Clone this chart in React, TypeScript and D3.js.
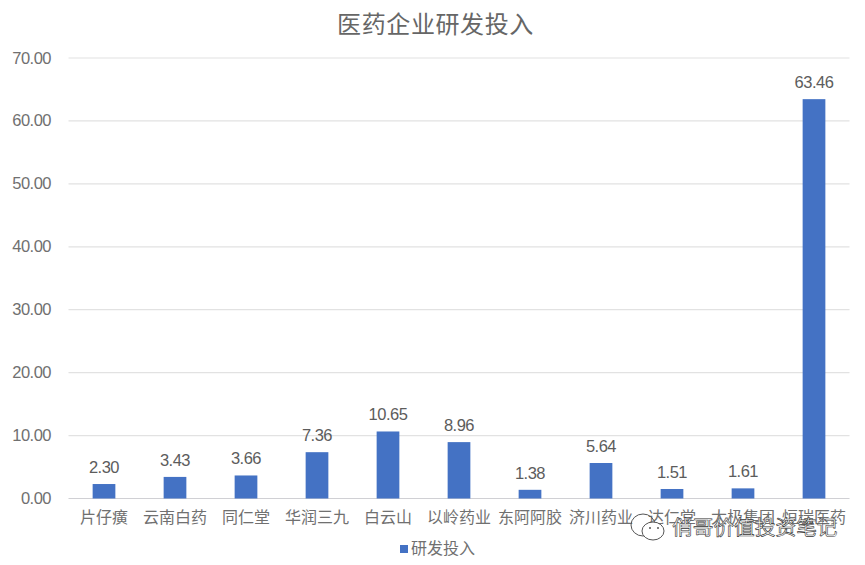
import React from "react";
import * as d3 from "d3";

const categories = ["片仔癀", "云南白药", "同仁堂", "华润三九", "白云山", "以岭药业", "东阿阿胶", "济川药业", "达仁堂", "太极集团", "恒瑞医药"];
const values = [2.3, 3.43, 3.66, 7.36, 10.65, 8.96, 1.38, 5.64, 1.51, 1.61, 63.46];
const yTicks = [0, 10, 20, 30, 40, 50, 60, 70];
const title = "医药企业研发投入";
const seriesName = "研发投入";
const watermark = "俏哥价值投资笔记";

const W = 865, H = 565;
const FONT = "'Liberation Sans','Noto Sans CJK SC',sans-serif";
const CJK = "'Noto Sans CJK SC',sans-serif";

export default function App() {
  const x = d3.scaleBand<string>().domain(categories).range([68.5, 849.5]).paddingInner(0.68).paddingOuter(0.34);
  const y = d3.scaleLinear().domain([0, 70]).range([498.5, 58]);
  const fmt = d3.format(".2f");
  return (
    <svg width={W} height={H} viewBox={`0 0 ${W} ${H}`} style={{ position: "absolute", left: 0, top: 0, background: "#fff" }}>
      <text x={435.5} y={33} textAnchor="middle" fontFamily={CJK} fontSize={24} fill="#666" letterSpacing={0.6}>{title}</text>
      {yTicks.map((t) => (
        <g key={t}>
          <line x1={68.5} x2={849.5} y1={y(t)} y2={y(t)} stroke={t === 0 ? "#d0d0d4" : "#e2e2e2"} strokeWidth={1.2} />
          <text x={51} y={y(t) + 5.5} textAnchor="end" fontFamily={FONT} fontSize={16.5} letterSpacing={-0.5} fill="#707070">{fmt(t)}</text>
        </g>
      ))}
      {categories.map((c, i) => (
        <g key={c}>
          <rect x={x(c)} y={y(values[i])} width={x.bandwidth()} height={y(0) - y(values[i])} fill="#4472c4" />
          <text x={x(c)! + x.bandwidth() / 2} y={y(values[i]) - 11} textAnchor="middle" fontFamily={FONT} fontSize={16.5} letterSpacing={-0.5} fill="#5c5c5c">{fmt(values[i])}</text>
          <text x={x(c)! + x.bandwidth() / 2} y={523} textAnchor="middle" fontFamily={CJK} fontSize={16} fill="#707070">{c}</text>
        </g>
      ))}
      <rect x={400} y={545} width={8} height={8} fill="#4472c4" />
      <text x={411} y={554} fontFamily={CJK} fontSize={16} fill="#707070">{seriesName}</text>
      <g fill="#fff" stroke="#555" strokeWidth={1}>
        <ellipse cx={643} cy={525} rx={12} ry={11} fill="none" />
        <ellipse cx={653} cy={531} rx={11} ry={9} />
      </g>
      <circle cx={650} cy={528} r={1} fill="#555" />
      <circle cx={658} cy={528} r={1} fill="#555" />
      <text x={672} y={535} fontFamily={CJK} fontSize={20.7} fill="#fff" stroke="#333" strokeWidth={0.6}>{watermark}</text>
    </svg>
  );
}
